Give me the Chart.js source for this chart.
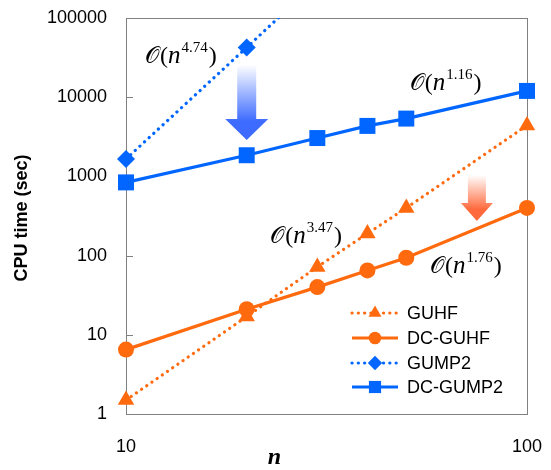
<!DOCTYPE html>
<html>
<head>
<meta charset="utf-8">
<script src="https://cdn.jsdelivr.net/npm/chart.js@4/dist/chart.umd.min.js"></script>
<style>
html,body{margin:0;padding:0;background:#fff;}
canvas{display:block;}
</style>
</head>
<body>
<canvas id="c" width="551" height="470"></canvas>
<script>
// ---- data ----
const nValues = [10, 20, 30, 40, 50, 100];
const guhf    = [1.5, 17, 72, 190, 400, 4400];
const dcGuhf  = [6.5, 21, 40, 65, 94, 400];
const gump2N  = [10, 20, 30];
const gump2   = [1660, 42500, 290000];
const dcGump2 = [840, 1850, 3050, 4340, 5370, 12000];
const xTicks  = [10, 100];
const yTicks  = [1, 10, 100, 1000, 10000, 100000];
const seriesNames = ['GUHF', 'DC-GUHF', 'GUMP2', 'DC-GUMP2'];
// complexity annotations: [label exponent, n, value at baseline]
const notes = [
  ['4.74', 11.15, 27000],
  ['1.16', 51.0, 12300],
  ['3.47', 22.9, 144],
  ['1.76', 57.3, 60]
];

const ORANGE = '#FF6A0E';
const BLUE = '#0066FF';
const CLIP = {left: 20, right: 20, top: 0, bottom: 20};

function pts(xs, ys){ return xs.map((x,i)=>({x:x, y:ys[i]})); }

const datasets = [
  {label: seriesNames[0], data: pts(nValues, guhf), borderColor: ORANGE, backgroundColor: ORANGE,
   borderWidth: 3.2, borderDash: [0.1, 6.2], borderCapStyle: 'round', pointStyle: 'triangle', pointRadius: 9.5,
   pointBorderWidth: 0, dashed: true, order: 2, clip: CLIP},
  {label: seriesNames[1], data: pts(nValues, dcGuhf), borderColor: ORANGE, backgroundColor: ORANGE,
   borderWidth: 3.2, pointStyle: 'circle', pointRadius: 8, pointBorderWidth: 0, order: 1, clip: CLIP},
  {label: seriesNames[2], data: pts(gump2N, gump2), borderColor: BLUE, backgroundColor: BLUE,
   borderWidth: 3.2, borderDash: [0.1, 6.2], borderCapStyle: 'round', pointStyle: 'rectRot', pointRadius: 9,
   pointBorderWidth: 0, dashed: true, order: 4, clip: CLIP},
  {label: seriesNames[3], data: pts(nValues, dcGump2), borderColor: BLUE, backgroundColor: BLUE,
   borderWidth: 3.2, pointStyle: 'rect', pointRadius: 11.3, pointBorderWidth: 0, order: 3, clip: CLIP}
];

function marker(ctx, style, x, y, r, color){
  ctx.save();
  ctx.fillStyle = color;
  ctx.beginPath();
  if(style==='triangle'){
    ctx.moveTo(x, y - r);
    ctx.lineTo(x + r*0.866, y + r*0.5);
    ctx.lineTo(x - r*0.866, y + r*0.5);
  } else if(style==='circle'){
    ctx.arc(x, y, r, 0, Math.PI*2);
  } else if(style==='rectRot'){
    ctx.moveTo(x, y - r); ctx.lineTo(x + r, y); ctx.lineTo(x, y + r); ctx.lineTo(x - r, y);
  } else {
    const s = r*Math.SQRT1_2;
    ctx.rect(x - s, y - s, 2*s, 2*s);
  }
  ctx.closePath();
  ctx.fill();
  ctx.restore();
}

function drawNote(ctx, exp, x, y){
  ctx.save();
  ctx.fillStyle = '#000';
  ctx.textBaseline = 'alphabetic';
  ctx.textAlign = 'left';
  let cx = x;
  const O = '\u{1D4AA}';
  ctx.font = '23px "DejaVu Sans", "Noto Sans", "Liberation Serif", serif';
  ctx.fillText(O, cx, y); cx += ctx.measureText(O).width + 1;
  ctx.font = '24px "Liberation Serif", serif';
  ctx.fillText('(', cx, y); cx += ctx.measureText('(').width;
  ctx.font = 'italic 25px "Liberation Serif", serif';
  ctx.fillText('n', cx, y); cx += ctx.measureText('n').width + 1;
  ctx.font = '15px "Liberation Serif", serif';
  ctx.fillText(exp, cx, y - 11); cx += ctx.measureText(exp).width + 1;
  ctx.font = '24px "Liberation Serif", serif';
  ctx.fillText(')', cx, y);
  ctx.restore();
}

function drawArrow(ctx, cx, yTop, yHead, yTip, shaftHW, headHW, color){
  ctx.save();
  const g = ctx.createLinearGradient(0, yTop, 0, yTip);
  g.addColorStop(0, 'rgba(255,255,255,1)');
  g.addColorStop(0.75, color);
  g.addColorStop(1, color);
  ctx.fillStyle = g;
  ctx.beginPath();
  ctx.moveTo(cx - shaftHW, yTop);
  ctx.lineTo(cx + shaftHW, yTop);
  ctx.lineTo(cx + shaftHW, yHead);
  ctx.lineTo(cx + headHW, yHead);
  ctx.lineTo(cx, yTip);
  ctx.lineTo(cx - headHW, yHead);
  ctx.lineTo(cx - shaftHW, yHead);
  ctx.closePath();
  ctx.fill();
  ctx.restore();
}

const decorPlugin = {
  id: 'decor',
  beforeDatasetsDraw(chart){
    const ctx = chart.ctx, a = chart.chartArea, xs = chart.scales.x, ys = chart.scales.y;
    // frame
    ctx.save();
    ctx.strokeStyle = '#808080';
    ctx.lineWidth = 1;
    ctx.strokeRect(Math.round(a.left)+0.5, Math.round(a.top)+0.5, Math.round(a.right-a.left), Math.round(a.bottom-a.top));
    // inward y ticks
    ctx.beginPath();
    yTicks.forEach(v=>{
      const y = Math.round(ys.getPixelForValue(v)) + 0.5;
      ctx.moveTo(a.left, y); ctx.lineTo(a.left + 7, y);
    });
    ctx.stroke();
    ctx.restore();

    drawArrow(ctx, xs.getPixelForValue(20), ys.getPixelForValue(25500), ys.getPixelForValue(5310),
              ys.getPixelForValue(2880), 9.5, 21.5, '#3D6BFF');
    drawArrow(ctx, xs.getPixelForValue(75), ys.getPixelForValue(1040), ys.getPixelForValue(461),
              ys.getPixelForValue(274), 9, 16, '#FF6A3D');
  },
  afterDraw(chart){
    const ctx = chart.ctx, a = chart.chartArea, xs = chart.scales.x, ys = chart.scales.y;

    // annotations
    notes.forEach(nt => drawNote(ctx, nt[0], xs.getPixelForValue(nt[1]), ys.getPixelForValue(nt[2])));

    // legend
    const lx0 = a.right - 175, lx1 = a.right - 129, mx = a.right - 152, tx = a.right - 120;
    const rows = [a.bottom - 101, a.bottom - 76, a.bottom - 51, a.bottom - 27];
    const lr = [7.5, 6.3, 7.2, 8.6];
    datasets.forEach((ds, i) => {
      const y = rows[i];
      ctx.save();
      ctx.strokeStyle = ds.borderColor;
      ctx.lineWidth = 3.2;
      if(ds.dashed){ ctx.setLineDash([0.1, 6.2]); ctx.lineCap = 'round'; }
      ctx.beginPath(); ctx.moveTo(lx0, y); ctx.lineTo(lx1, y); ctx.stroke();
      ctx.restore();
      marker(ctx, ds.pointStyle, mx, y, lr[i], ds.borderColor);
      ctx.save();
      ctx.fillStyle = '#000';
      ctx.font = '18px "Liberation Sans", Arial, sans-serif';
      ctx.textBaseline = 'middle';
      ctx.textAlign = 'left';
      ctx.fillText(ds.label, tx, y + 1);
      ctx.restore();
    });

    // axis titles
    ctx.save();
    ctx.fillStyle = '#000';
    ctx.font = 'bold italic 24px "Liberation Serif", serif';
    ctx.textAlign = 'center';
    ctx.textBaseline = 'alphabetic';
    ctx.fillText('n', (a.left + a.right)/2 - 52, 464);
    ctx.translate(22, (a.top + a.bottom)/2 + 2);
    ctx.rotate(-Math.PI/2);
    ctx.font = 'bold 18px "Liberation Sans", Arial, sans-serif';
    ctx.textBaseline = 'middle';
    ctx.fillText('CPU time (sec)', 0, 0);
    ctx.restore();
  }
};

function noPad(s){ s.paddingTop = 0; s.paddingBottom = 0; s.paddingLeft = 0; s.paddingRight = 0; }

new Chart(document.getElementById('c'), {
  type: 'line',
  data: { datasets: datasets },
  options: {
    responsive: false,
    animation: false,
    devicePixelRatio: 1,
    layout: { padding: { left: 0, top: 18, right: 24, bottom: 0 } },
    plugins: { legend: { display: false }, tooltip: { enabled: false } },
    scales: {
      x: {
        type: 'logarithmic', min: 10, max: 100,
        grid: { display: false, drawTicks: false },
        border: { display: true, color: '#808080', width: 1 },
        afterBuildTicks: s => { s.ticks = xTicks.map(v => ({value: v})); },
        afterFit: s => { s.height = 56; noPad(s); },
        ticks: { color: '#000', padding: 22, maxRotation: 0, autoSkip: false,
          font: { family: '"Liberation Sans", Arial, sans-serif', size: 18 },
          callback: v => String(v) }
      },
      y: {
        type: 'logarithmic', min: 1, max: 100000,
        grid: { display: false, drawTicks: false },
        border: { display: true, color: '#808080', width: 1 },
        afterBuildTicks: s => { s.ticks = yTicks.map(v => ({value: v})); },
        afterFit: s => { s.width = 126; noPad(s); },
        ticks: { color: '#000', padding: 19, autoSkip: false,
          font: { family: '"Liberation Sans", Arial, sans-serif', size: 18 },
          callback: v => String(v) }
      }
    }
  },
  plugins: [decorPlugin]
});
</script>
</body>
</html>
